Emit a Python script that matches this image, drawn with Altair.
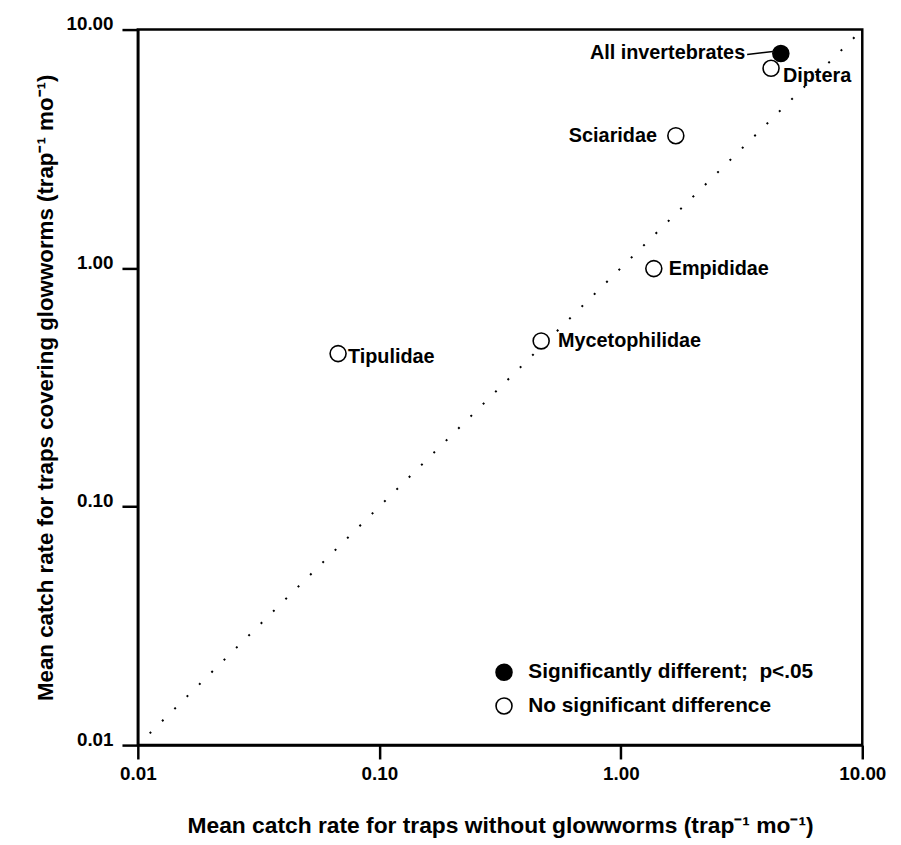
import altair as alt
import pandas as pd

# ---- data ----
taxa = ["All invertebrates", "Diptera", "Sciaridae", "Empididae", "Mycetophilidae", "Tipulidae"]
catch_without = [4.60, 4.19, 1.69, 1.37, 0.468, 0.0675]
catch_covering = [7.94, 6.88, 3.59, 0.995, 0.495, 0.438]
SIG = "Significantly different;\u00a0 p<.05"
NS = "No significant difference"
significance = [SIG, NS, NS, NS, NS, NS]
tick_values = [0.01, 0.1, 1, 10]
equal_line = [0.0112, 10]

FONT = "Liberation Sans, Arial, Helvetica, sans-serif"

df = pd.DataFrame({"taxon": taxa, "x": catch_without, "y": catch_covering, "sig": significance})
line_df = pd.DataFrame({"x": equal_line, "y": equal_line})

xs = alt.Scale(type="log", domain=[0.01, 10], nice=False)
ys = alt.Scale(type="log", domain=[0.01, 10], nice=False)

x_axis = alt.Axis(values=tick_values, format=".2f", grid=False, tickSize=14, tickWidth=2.5,
                  domainWidth=2.5, domainColor="black", tickColor="black",
                  labelFont=FONT, labelFontSize=19, labelFontWeight="bold", labelColor="black",
                  labelPadding=6, labelFlush=False,
                  title="Mean catch rate for traps without glowworms (trap\u207b\u00b9 mo\u207b\u00b9)",
                  titleFont=FONT, titleFontSize=23, titleFontWeight="bold", titleColor="black",
                  titlePadding=31)
y_axis = alt.Axis(values=tick_values, format=".2f", grid=False, tickSize=16, tickWidth=2.5,
                  domainWidth=2.5, domainColor="black", tickColor="black",
                  labelFont=FONT, labelFontSize=19, labelFontWeight="bold", labelColor="black",
                  labelPadding=9, labelBaseline="alphabetic", labelFlush=False,
                  title="Mean catch rate for traps covering glowworms (trap\u207b\u00b9 mo\u207b\u00b9)",
                  titleFont=FONT, titleFontSize=22.5, titleFontWeight="bold", titleColor="black",
                  titlePadding=9)

line = alt.Chart(line_df).mark_line(color="black", strokeWidth=2, strokeDash=[2, 15.5]).encode(
    x=alt.X("x:Q", scale=xs, axis=x_axis),
    y=alt.Y("y:Q", scale=ys, axis=y_axis),
)

points = alt.Chart(df).mark_point(shape="circle", size=260, stroke="black", strokeWidth=1.6,
                                  opacity=1, filled=False).encode(
    x=alt.X("x:Q", scale=xs),
    y=alt.Y("y:Q", scale=ys),
    fill=alt.Fill("sig:N", scale=alt.Scale(domain=[SIG, NS], range=["black", "white"]),
                  legend=alt.Legend(orient="none", legendX=359, legendY=638, title=None,
                                    symbolType="circle", symbolSize=260,
                                    symbolStrokeColor="black", symbolStrokeWidth=1.6,
                                    labelFont=FONT, labelFontSize=21, labelFontWeight="bold",
                                    labelColor="black", labelOffset=14, rowPadding=11,
                                    labelLimit=400)),
)

# label placement styles
label_style = {
    "All invertebrates": dict(align="right", dx=-36, dy=0),
    "Diptera": dict(align="left", dx=12, dy=8),
    "Sciaridae": dict(align="right", dx=-19, dy=0),
    "Empididae": dict(align="left", dx=15, dy=0),
    "Mycetophilidae": dict(align="left", dx=17, dy=0),
    "Tipulidae": dict(align="left", dx=10, dy=3),
}

layers = [line]
for name, st in label_style.items():
    layers.append(
        alt.Chart(df).transform_filter(alt.datum.taxon == name).mark_text(
            font=FONT, fontSize=20, fontWeight="bold", color="black",
            align=st["align"], baseline="middle", dx=st["dx"], dy=st["dy"]
        ).encode(x=alt.X("x:Q", scale=xs), y=alt.Y("y:Q", scale=ys), text="taxon:N")
    )

leader = alt.Chart(df).transform_filter(alt.datum.taxon == "All invertebrates").mark_rule(
    color="black", strokeWidth=1.5, xOffset=-34, x2Offset=-8, yOffset=1, y2Offset=-2
).encode(x=alt.X("x:Q", scale=xs), x2=alt.X2("x:Q"), y=alt.Y("y:Q", scale=ys), y2=alt.Y2("y:Q"))

layers.append(leader)
layers.append(points)

chart = alt.layer(*layers).properties(
    width=731, height=722,
    autosize=alt.AutoSizeParams(type="none"),
    padding={"left": 131, "top": 18, "right": 31, "bottom": 93},
).configure_view(stroke="black", strokeWidth=2.5).configure_axis(grid=False)

chart.save("out.html", embed_options={"renderer": "svg", "actions": False})
